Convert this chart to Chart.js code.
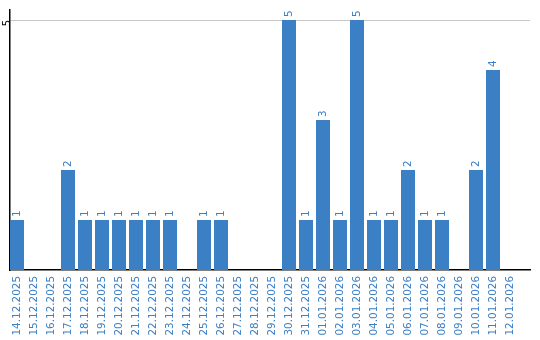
<!DOCTYPE html>
<html>
<head>
<meta charset="utf-8">
<script src="https://cdn.jsdelivr.net/npm/chart.js@4/dist/chart.umd.min.js"></script>
<style>
html,body{margin:0;padding:0;background:#fff;}
#wrap{width:540px;height:340px;position:relative;}
</style>
</head>
<body>
<div id="wrap"><canvas id="c" width="540" height="340"></canvas></div>
<script>
const categories = ["14.12.2025","15.12.2025","16.12.2025","17.12.2025","18.12.2025","19.12.2025","20.12.2025","21.12.2025","22.12.2025","23.12.2025","24.12.2025","25.12.2025","26.12.2025","27.12.2025","28.12.2025","29.12.2025","30.12.2025","31.12.2025","01.01.2026","02.01.2026","03.01.2026","04.01.2026","05.01.2026","06.01.2026","07.01.2026","08.01.2026","09.01.2026","10.01.2026","11.01.2026","12.01.2026"];
const counts = [1,0,0,2,1,1,1,1,1,1,0,1,1,0,0,0,5,1,3,1,5,1,1,2,1,1,0,2,4,0];
const yTicks = [5];

const BLUE = '#3b7fc4';
const FONT = {family: 'DejaVu Sans', size: 10.4};

const valueLabels = {
  id: 'valueLabels',
  afterDatasetsDraw(chart) {
    const ctx = chart.ctx;
    const meta = chart.getDatasetMeta(0);
    ctx.save();
    ctx.font = FONT.size + 'px "' + FONT.family + '"';
    ctx.fillStyle = BLUE;
    ctx.textAlign = 'left';
    ctx.textBaseline = 'middle';
    meta.data.forEach((bar, i) => {
      const v = counts[i];
      if (!v) return;
      ctx.save();
      ctx.translate(bar.x, bar.y - 3);
      ctx.rotate(-Math.PI / 2);
      ctx.fillText(String(v), 0, 0);
      ctx.restore();
    });
    ctx.restore();
  }
};

new Chart(document.getElementById('c'), {
  type: 'bar',
  data: {
    labels: categories,
    datasets: [{
      data: counts,
      backgroundColor: BLUE,
      borderWidth: 0,
      categoryPercentage: 1,
      barPercentage: 14 / 17
    }]
  },
  options: {
    responsive: false,
    animation: false,
    events: [],
    layout: {padding: {top: 10, right: 10, left: 0, bottom: 0}},
    plugins: {legend: {display: false}, tooltip: {enabled: false}},
    scales: {
      x: {
        offset: true,
        border: {display: true, color: '#000', width: 1.5},
        grid: {display: false, drawTicks: false},
        ticks: {
          color: BLUE, font: FONT, padding: 6,
          minRotation: 90, maxRotation: 90, autoSkip: false
        },
        afterBuildTicks(scale) {
          // categories are 17px wide, the first one starting 1.5px left of the axis
          const w = scale.right - scale.left;
          scale._valueRange = w / 17;
          scale._startValue = -7 / 17;
        },
        afterFit(scale) { scale.height = 70; }
      },
      y: {
        min: 0, max: 5.2,
        border: {display: true, color: '#000', width: 1.5},
        grid: {color: '#c8c8c8', drawTicks: false, lineWidth: 1},
        ticks: {color: '#000', font: {family: 'DejaVu Sans', size: 10}, padding: 3, minRotation: 90, maxRotation: 90},
        afterBuildTicks(scale) { scale.ticks = yTicks.map(v => ({value: v})); },
        afterFit(scale) { scale.width = 10; }
      }
    }
  },
  plugins: [valueLabels]
});
</script>
</body>
</html>
